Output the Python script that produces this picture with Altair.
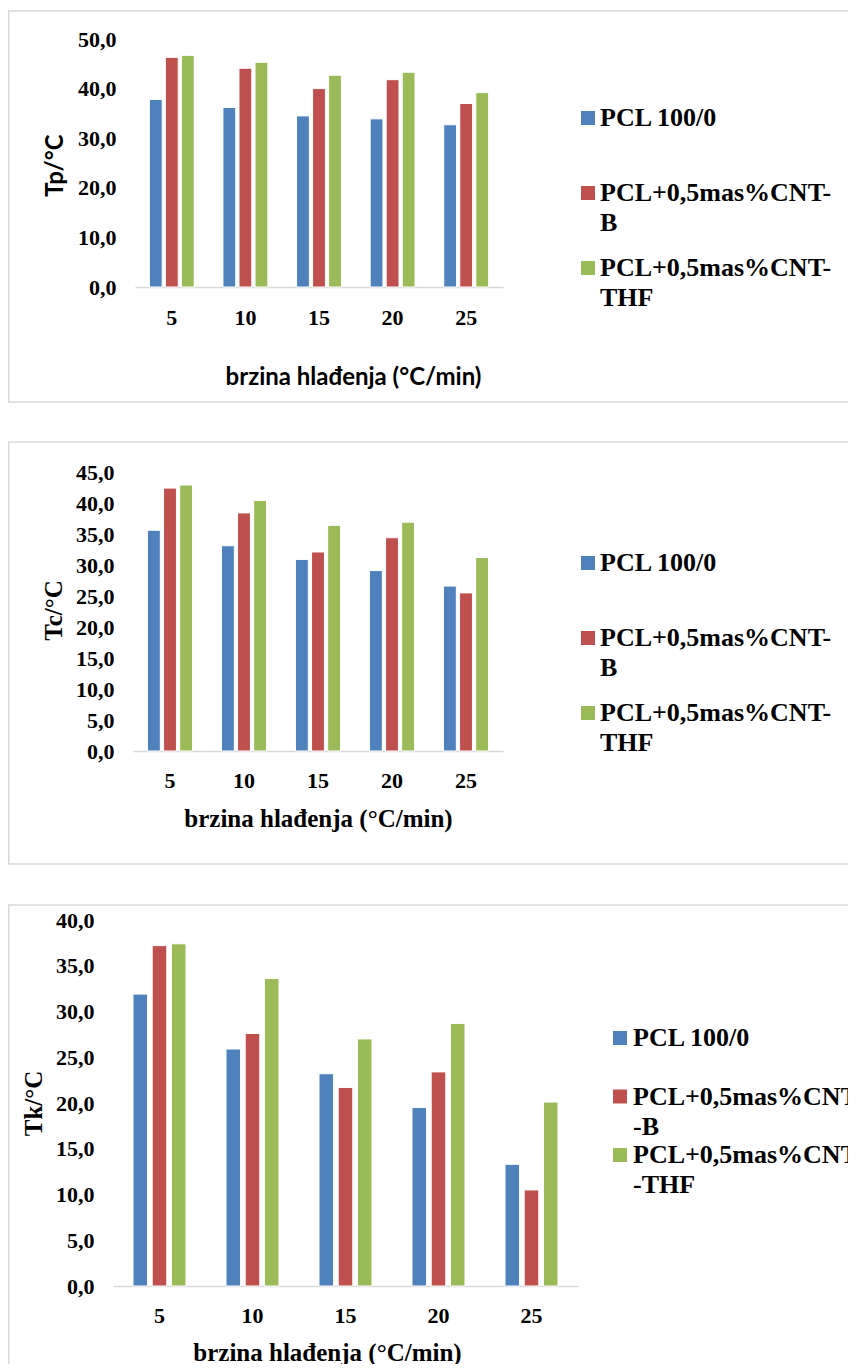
import altair as alt
import pandas as pd

RATES = ["5", "10", "15", "20", "25"]
SERIES = ["PCL 100/0", "PCL+0,5mas%CNT-B", "PCL+0,5mas%CNT-THF"]
COLORS = ["#4F81BD", "#C0504D", "#9BBB59"]

# Tp (peak temperature)
TP_PCL = [37.8, 36.2, 34.5, 33.9, 32.7]
TP_B = [46.3, 44.1, 40.0, 41.8, 37.0]
TP_THF = [46.7, 45.3, 42.7, 43.3, 39.2]

# Tc
TC_PCL = [35.6, 33.1, 30.9, 29.1, 26.6]
TC_B = [42.4, 38.4, 32.1, 34.4, 25.5]
TC_THF = [42.9, 40.4, 36.4, 36.9, 31.2]

# Tk
TK_PCL = [31.9, 25.9, 23.2, 19.5, 13.3]
TK_B = [37.2, 27.6, 21.7, 23.4, 10.5]
TK_THF = [37.4, 33.6, 27.0, 28.7, 20.1]

LABELS_A = ["PCL 100/0", "PCL+0,5mas%CNT-\nB", "PCL+0,5mas%CNT-\nTHF"]
LABELS_C = ["PCL 100/0", "PCL+0,5mas%CNT\n-B", "PCL+0,5mas%CNT\n-THF"]

XTITLE = "brzina hlađenja (°C/min)"
SERIF = "Liberation Serif"
SANS = "Lato"
BOX = "#D9D9D9"
W = 840
H = 1353


def make_df(a, b, c):
    rows = []
    for s, vals in zip(SERIES, [a, b, c]):
        for r, v in zip(RATES, vals):
            rows.append({"rate": r, "series": s, "value": v})
    return pd.DataFrame(rows)


COLOR = alt.Color("series:N", scale=alt.Scale(domain=SERIES, range=COLORS), legend=None)


def panel_layers(df, labels, ytitle, ymax, ystep, g):
    bars = alt.Chart(df).mark_bar(stroke="white", strokeWidth=1).encode(
        x=alt.X(
            "rate:N",
            sort=RATES,
            scale=alt.Scale(domain=RATES, range=[g["x0"], g["x1"]],
                            paddingInner=g["pi"], paddingOuter=g["pi"] / 2),
            axis=alt.Axis(
                orient="bottom", title=XTITLE, labelAngle=0, labelFont=SERIF,
                labelFontWeight="bold", labelFontSize=22, labelColor="black",
                labelBaseline="middle", labelPadding=g["xlp"], ticks=False,
                domainColor=BOX, domainWidth=1.5, grid=False, offset=g["y0"] - H,
                titleX=g["xtx"], titleY=g["xty"], titleAlign="center",
                titleBaseline="middle", titleFont=g["tfont"], titleFontSize=g["xts"],
                titleFontWeight="bold", titleColor="black",
            ),
        ),
        xOffset=alt.XOffset("series:N", sort=SERIES,
                            scale=alt.Scale(domain=SERIES, paddingInner=g["oi"], paddingOuter=0)),
        y=alt.Y(
            "value:Q",
            scale=alt.Scale(domain=[0, ymax], range=[g["y0"], g["y1"]], nice=False, zero=True),
            axis=alt.Axis(
                orient="left", values=list(range(0, ymax + 1, ystep)),
                labelExpr="replace(format(datum.value, '.1f'), '.', ',')",
                labelFont=SERIF, labelFontWeight="bold", labelFontSize=22, labelColor="black",
                labelOverlap=False, labelPadding=0, domain=False, ticks=False, grid=False,
                offset=g["yoff"], title=ytitle, titleFont=g["tfont"], titleFontSize=g["yts"],
                titleFontWeight="bold", titleColor="black", titleX=g["ytx"], titleY=g["yty"],
                titleAngle=270, titleAlign="center", titleBaseline="middle",
            ),
        ),
        color=COLOR,
    )
    leg_df = pd.DataFrame({"series": SERIES, "label": labels})
    ly = alt.Y("series:N", sort=SERIES,
               scale=alt.Scale(domain=SERIES, range=[g["ly0"], g["ly1"]], padding=0), axis=None)
    squares = alt.Chart(leg_df).mark_square(size=196, opacity=1).encode(
        x=alt.value(g["lx"]), y=ly, color=COLOR
    )
    texts = alt.Chart(leg_df).mark_text(
        align="left", baseline="alphabetic", dy=8, font=SERIF, fontWeight="bold",
        fontSize=26, lineBreak="\n", lineHeight=30, color="black",
    ).encode(x=alt.value(g["tx"]), y=ly, text="label:N")
    frame = alt.Chart(pd.DataFrame({"panel": [ytitle]})).mark_rect(
        fillOpacity=0, stroke=BOX, strokeWidth=1.5
    ).encode(
        x=alt.value(0.75), x2=alt.value(W + 60),
        y=alt.value(g["top"]), y2=alt.value(g["bottom"]),
    )
    return [frame, bars, squares, texts]


g1 = dict(top=0, bottom=391, x0=127, x1=495, pi=0.39, oi=0.2, y0=276, y1=28,
          yoff=-108, ytx=-61, yty=154, xlp=30, xtx=345, xty=90,
          tfont=SANS, xts=24, yts=24, lx=580, ly0=107, ly1=257, tx=592)
g2 = dict(top=431, bottom=853, x0=125, x1=495, pi=0.39, oi=0.2, y0=740, y1=461,
          yoff=-106, ytx=-61, yty=599, xlp=29, xtx=310, xty=67,
          tfont=SERIF, xts=25, yts=25, lx=580, ly0=552, ly1=702, tx=592)
g3 = dict(top=894, bottom=H + 40, x0=105, x1=570, pi=0.43, oi=0.24, y0=1275, y1=909,
          yoff=-86, ytx=-61, yty=1092, xlp=29, xtx=319, xty=66,
          tfont=SERIF, xts=25, yts=25, lx=612, ly0=1027, ly1=1144, tx=625)

layers = (
    panel_layers(make_df(TP_PCL, TP_B, TP_THF), LABELS_A, "Tp/°C", 50, 10, g1)
    + panel_layers(make_df(TC_PCL, TC_B, TC_THF), LABELS_A, "Tc/°C", 45, 5, g2)
    + panel_layers(make_df(TK_PCL, TK_B, TK_THF), LABELS_C, "Tk/°C", 40, 5, g3)
)

chart = alt.layer(*layers).resolve_scale(
    x="independent", y="independent", xOffset="independent"
).resolve_axis(x="independent", y="independent").properties(
    width=W, height=H,
    autosize=alt.AutoSizeParams(type="none"),
    padding={"left": 0, "top": 3, "right": 0, "bottom": 0},
    background="white",
).configure_view(strokeWidth=0)

chart.save("out.html", embed_options={"renderer": "svg", "actions": False})
